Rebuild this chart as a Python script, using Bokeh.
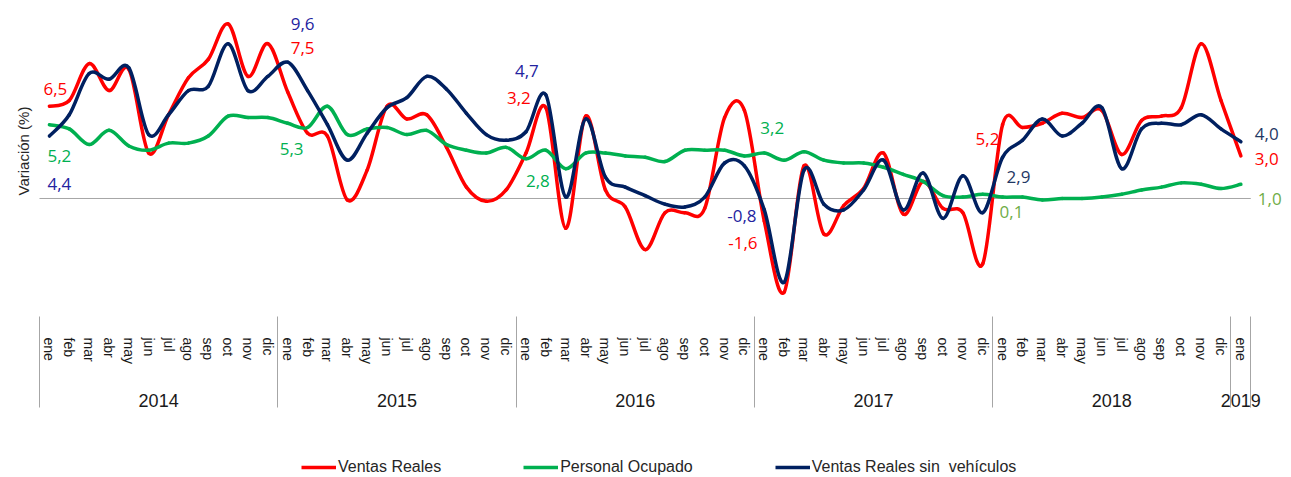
import numpy as np
from bokeh.plotting import figure
from bokeh.layouts import column
from bokeh.models import (FactorRange, CategoricalAxis, Range1d, Title,
                          LabelSet, ColumnDataSource, Legend, LegendItem)
from bokeh.core.properties import value
from bokeh.embed import file_html
from bokeh.resources import INLINE

# ---------------- data ----------------
months = ["ene", "feb", "mar", "abr", "may", "jun", "jul", "ago", "sep", "oct", "nov", "dic"]
years = ["2014", "2015", "2016", "2017", "2018", "2019"]
periods = [(y, m) for y in years[:-1] for m in months] + [("2019", "ene")]

ventas_reales = [
    6.5, 6.9, 9.5, 7.6, 9.1, 3.2, 5.9, 8.5, 9.8, 12.3, 8.6, 10.9,
    7.5, 4.6, 4.4, -0.1, 2.0, 6.5, 5.6, 5.9, 3.6, 0.8, -0.2, 0.6,
    3.2, 6.4, -2.1, 5.8, 0.6, -0.6, -3.6, -1.0, -1.0, -0.7, 5.7, 6.2,
    -1.6, -6.6, 2.3, -2.5, -0.5, 0.7, 3.2, -1.1, 1.2, -0.7, -1.0, -4.6,
    5.2, 5.0, 5.3, 6.0, 5.7, 6.2, 3.1, 5.5, 5.8, 6.4, 10.9, 6.9,
    3.0,
]
personal_ocupado = [
    5.2, 4.9, 3.8, 4.8, 3.7, 3.4, 3.9, 3.9, 4.4, 5.8, 5.7, 5.7,
    5.3, 5.0, 6.5, 4.5, 4.9, 5.0, 4.5, 4.8, 3.8, 3.4, 3.2, 3.6,
    2.8, 3.4, 2.1, 3.2, 3.2, 3.0, 2.9, 2.6, 3.4, 3.4, 3.4, 3.0,
    3.2, 2.7, 3.3, 2.7, 2.5, 2.5, 2.2, 1.7, 1.2, 0.2, 0.1, 0.3,
    0.1, 0.1, -0.1, 0.0, 0.0, 0.1, 0.3, 0.6, 0.8, 1.1, 1.0, 0.7,
    1.0,
]
ventas_sin_vehiculos = [
    4.4, 5.9, 8.8, 8.4, 9.2, 4.5, 5.9, 7.6, 7.9, 10.9, 7.6, 8.6,
    9.6, 7.6, 5.2, 2.7, 4.6, 6.4, 7.1, 8.6, 7.7, 6.0, 4.5, 4.1,
    4.7, 7.3, 0.1, 5.6, 1.5, 0.8, 0.2, -0.4, -0.6, 0.1, 2.5, 2.3,
    -0.8, -5.9, 2.0, -0.4, -0.8, 0.6, 2.7, -0.8, 1.8, -1.4, 1.6, -1.0,
    2.9, 4.1, 5.6, 4.4, 5.3, 6.4, 2.1, 4.9, 5.3, 5.2, 5.9, 4.9,
    4.0,
]
series_names = ["Ventas Reales", "Personal Ocupado", "Ventas Reales sin  vehículos"]
label_months = [0, 12, 24, 36, 48, 60]   # every January gets a value label

# ---------------- styles ----------------
SANS = "Liberation Sans"
line_colors = ["#FF0000", "#00B050", "#002060"]
label_colors = [
    ["#FF0000"] * 6,
    ["#00B050"] * 4 + ["#70AD47"] * 2,
    ["#2323A0"] * 4 + ["#1F3864"] * 2,
]
# pixel offsets of each value label from its point (x right, y up)
label_offsets = [
    [(-6, 17), (3, 44.5), (-19, 54.6), (-36, -22), (-27, -14), (14, -2.6)],
    [(-2, -31), (-8, -26), (0, -22), (-4, 24.6), (-3, -15.4), (17, -15)],
    [(-2, -47.5), (3, 37.7), (-11, 61), (-37, -6.6), (4, -20), (14, 8)],
]

# ---------------- main figure ----------------
# blank outer groups: they draw the outer separators and leave room for the end labels
cat_factors = ([(" ", " ")] + periods +
               [("  ", " "), ("  ", "  "), ("  ", "   ")])
xr = FactorRange(factors=cat_factors, factor_padding=0, subgroup_padding=0, group_padding=0,
                 range_padding=-0.95, range_padding_units="absolute")
x0_syn = cat_factors.index(periods[0]) + 0.5   # synthetic coordinate of the first month

p = figure(width=1291, height=450, x_range=xr, y_range=Range1d(-8.10, 13.10),
           output_backend="svg", toolbar_location=None,
           x_axis_location=None, y_axis_location=None,
           min_border_left=38, min_border_right=0, min_border_top=12, min_border_bottom=137)
p.xgrid.visible = False
p.ygrid.visible = False
p.outline_line_color = None
p.background_fill_color = "white"

p.add_layout(Title(text="Variación (%)", align="left", offset=118, text_font=SANS,
                   text_font_size="15px", text_font_style="normal", text_color="#262626",
                   standoff=13), "left")

xa = CategoricalAxis(major_label_orientation="vertical", major_label_standoff=24,
                     major_tick_out=0, major_tick_in=0, axis_line_color=None,
                     major_label_text_font=SANS, major_label_text_font_size="14px",
                     major_label_text_color="#1a1a1a",
                     group_text_font=SANS, group_text_font_size="18px",
                     group_text_font_style="normal", group_text_color="#1a1a1a",
                     separator_line_color="#A6A6A6", separator_line_width=1)
p.add_layout(xa, "below")

# zero line across the months
p.segment(x0=[x0_syn - 0.5], x1=[x0_syn + len(periods) - 0.5], y0=[0], y1=[0],
          line_color="#A6A6A6", line_width=1, level="underlay")


def smooth_source(vals):
    xs = np.arange(len(vals), dtype=float) + x0_syn
    ys = np.asarray(vals, dtype=float)
    n = len(xs)
    qx = np.concatenate([[xs[0]], xs, [xs[-1]]])
    qy = np.concatenate([[ys[0]], ys, [ys[-1]]])
    p0x, p1x, p2x, p3x = qx[0:n - 1], qx[1:n], qx[2:n + 1], qx[3:n + 2]
    p0y, p1y, p2y, p3y = qy[0:n - 1], qy[1:n], qy[2:n + 1], qy[3:n + 2]
    return ColumnDataSource(dict(
        x0=p1x, y0=p1y, x1=p2x, y1=p2y,
        cx0=p1x + (p2x - p0x) / 6, cy0=p1y + (p2y - p0y) / 6,
        cx1=p2x - (p3x - p1x) / 6, cy1=p2y - (p3y - p1y) / 6,
    ))


all_series = [ventas_reales, personal_ocupado, ventas_sin_vehiculos]
for name, vals, col in zip(series_names, all_series, line_colors):
    p.bezier(x0="x0", y0="y0", x1="x1", y1="y1", cx0="cx0", cy0="cy0", cx1="cx1", cy1="cy1",
             source=smooth_source(vals), line_color=col, line_width=3.5, line_cap="round")

# value labels
lx, ly, lt, lc, ldx, ldy = [], [], [], [], [], []
for s, vals in enumerate(all_series):
    for k, idx in enumerate(label_months):
        v = vals[idx]
        lx.append(idx + x0_syn)
        ly.append(v)
        lt.append(f"{v:.1f}".replace(".", ","))
        lc.append(label_colors[s][k])
        ldx.append(label_offsets[s][k][0])
        ldy.append(label_offsets[s][k][1])
lab_src = ColumnDataSource(dict(x=lx, y=ly, text=lt, color=lc, dx=ldx, dy=ldy))
p.add_layout(LabelSet(x="x", y="y", text="text", x_offset="dx", y_offset="dy",
                      text_color="color", text_font=value("Open Sans"), text_font_size="17px",
                      text_align="left", text_baseline="middle", source=lab_src))

# ---------------- legend strip ----------------
lf = figure(width=1291, height=27, output_backend="svg", toolbar_location=None,
            x_axis_location=None, y_axis_location=None, min_border=0,
            x_range=Range1d(0, 1), y_range=Range1d(0, 1))
lf.xgrid.visible = False
lf.ygrid.visible = False
lf.outline_line_color = None
items = []
for name, vals, col in zip(series_names, all_series, line_colors):
    # same series, kept hidden: only its legend swatch is shown in this strip
    r = lf.line(x=list(range(len(vals))), y=vals, line_color=col, line_width=3.5, visible=False)
    items.append(LegendItem(label=name, renderers=[r]))
legend = Legend(items=items, orientation="horizontal", location=(263, 0),
                glyph_width=35, glyph_height=20, label_standoff=2, spacing=82,
                padding=0, margin=0, border_line_color=None, background_fill_alpha=0,
                label_text_font=SANS, label_text_font_size="16px",
                label_text_color="#262626")
lf.add_layout(legend)

layout = column(p, lf, spacing=0)
open("out.html", "w").write(file_html(layout, INLINE))
